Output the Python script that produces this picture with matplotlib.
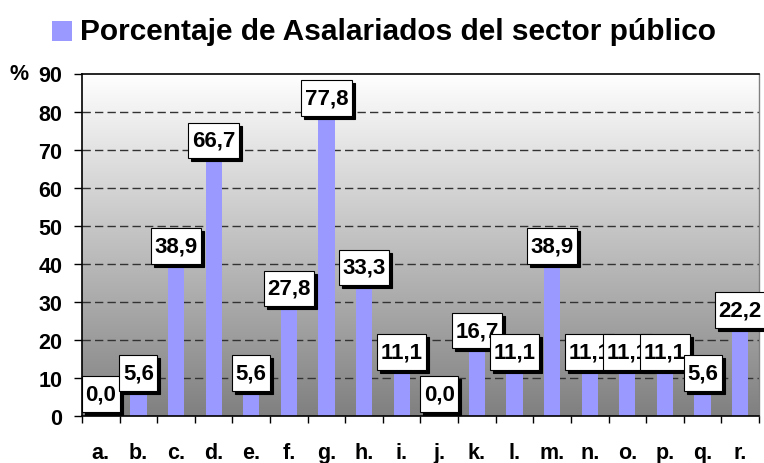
import numpy as np
import matplotlib
matplotlib.use("Agg")
import matplotlib.pyplot as plt
from matplotlib.patches import Rectangle
from matplotlib.path import Path

categories = ["a.", "b.", "c.", "d.", "e.", "f.", "g.", "h.", "i.", "j.",
              "k.", "l.", "m.", "n.", "o.", "p.", "q.", "r."]
values = [0.0, 5.6, 38.9, 66.7, 5.6, 27.8, 77.8, 33.3, 11.1, 0.0,
          16.7, 11.1, 38.9, 11.1, 11.1, 11.1, 5.6, 22.2]
yticks = [0, 10, 20, 30, 40, 50, 60, 70, 80, 90]
title = "Porcentaje de Asalariados del sector público"
bar_color = "#9999FF"

plt.rcParams['font.family'] = ['Liberation Sans', 'DejaVu Sans']
plt.rcParams['font.weight'] = 'bold'

W, H = 764, 464
fig = plt.figure(figsize=(W / 100, H / 100), dpi=100)
ax = fig.add_axes([82 / W, 1 - 417 / H, (759 - 82) / W, (417 - 74.5) / H])

x = np.arange(len(categories))
ax.set_xlim(-0.5, len(categories) - 0.5)
ax.set_ylim(0, 90)

# gradient background
grad = np.linspace(0, 1, 256).reshape(-1, 1)
cmap = matplotlib.colors.LinearSegmentedColormap.from_list("g", ["#808080", "#FFFFFF"])
ax.imshow(grad, extent=[-0.5, len(categories) - 0.5, 0, 90], origin='lower',
          aspect='auto', cmap=cmap, zorder=0)

for yv in yticks[1:-1]:
    ax.axhline(yv, color="#333333", lw=1, linestyle=(0, (6, 3)), zorder=1)

ax.bar(x, values, width=0.43, color=bar_color, zorder=2)

PX, PY = 0.16, 0.33


def label_box(x0, y0, width, height, mutation_size):
    px = PX * mutation_size
    py = PY * mutation_size
    verts = [(x0 - px, y0 - py), (x0 + width + px, y0 - py),
             (x0 + width + px, y0 + height + py), (x0 - px, y0 + height + py),
             (x0 - px, y0 - py)]
    return Path(verts, closed=True)


fs = 15.5
lfs = 16
gap = 4 + PY * lfs / 72 * 100
for xi, v in zip(x, values):
    lab = f"{v:.1f}".replace('.', ',')
    ax.annotate(lab, (xi, v), xytext=(3, gap - 3), textcoords='offset pixels',
                ha='center', va='bottom', fontsize=lfs, fontweight='bold', color='black',
                bbox=dict(boxstyle=label_box, fc='black', ec='black', lw=0.8),
                zorder=3, annotation_clip=False)
    ax.annotate(lab, (xi, v), xytext=(0, gap), textcoords='offset pixels',
                ha='center', va='bottom', fontsize=lfs, fontweight='bold', color='black',
                bbox=dict(boxstyle=label_box, fc='white', ec='black', lw=0.8),
                zorder=4, annotation_clip=False)

ax.set_yticks(yticks)
ax.set_yticklabels([str(t) for t in yticks], fontsize=fs, fontweight='bold')
ax.tick_params(axis='y', direction='out', length=5.5, width=1, pad=8.5)

ax.set_xticks(np.arange(-0.5, len(categories) + 0.5, 1))
ax.set_xticklabels([])
ax.set_xticks(x, minor=True)
ax.set_xticklabels(categories, minor=True, fontsize=fs, fontweight='bold')
ax.tick_params(axis='x', which='major', direction='out', length=5, width=1)
ax.tick_params(axis='x', which='minor', length=0, pad=19)

for s in ['left', 'bottom', 'top']:
    ax.spines[s].set_color('black')
    ax.spines[s].set_linewidth(1.2)
ax.spines['right'].set_color('#808080')
ax.spines['right'].set_linewidth(1)

fig.text(9 / W, 1 - 74 / H, "%", fontsize=fs, fontweight='bold', ha='left', va='center')

# title with legend square
fig.patches.append(Rectangle((52 / W, 1 - 42 / H), 20 / W, 20 / H,
                             transform=fig.transFigure, fc=bar_color, ec='none'))
fig.text(80 / W, 1 - 32 / H, title, fontsize=21.5, fontweight='bold', ha='left', va='center')

fig.savefig("out.png", dpi=100)
